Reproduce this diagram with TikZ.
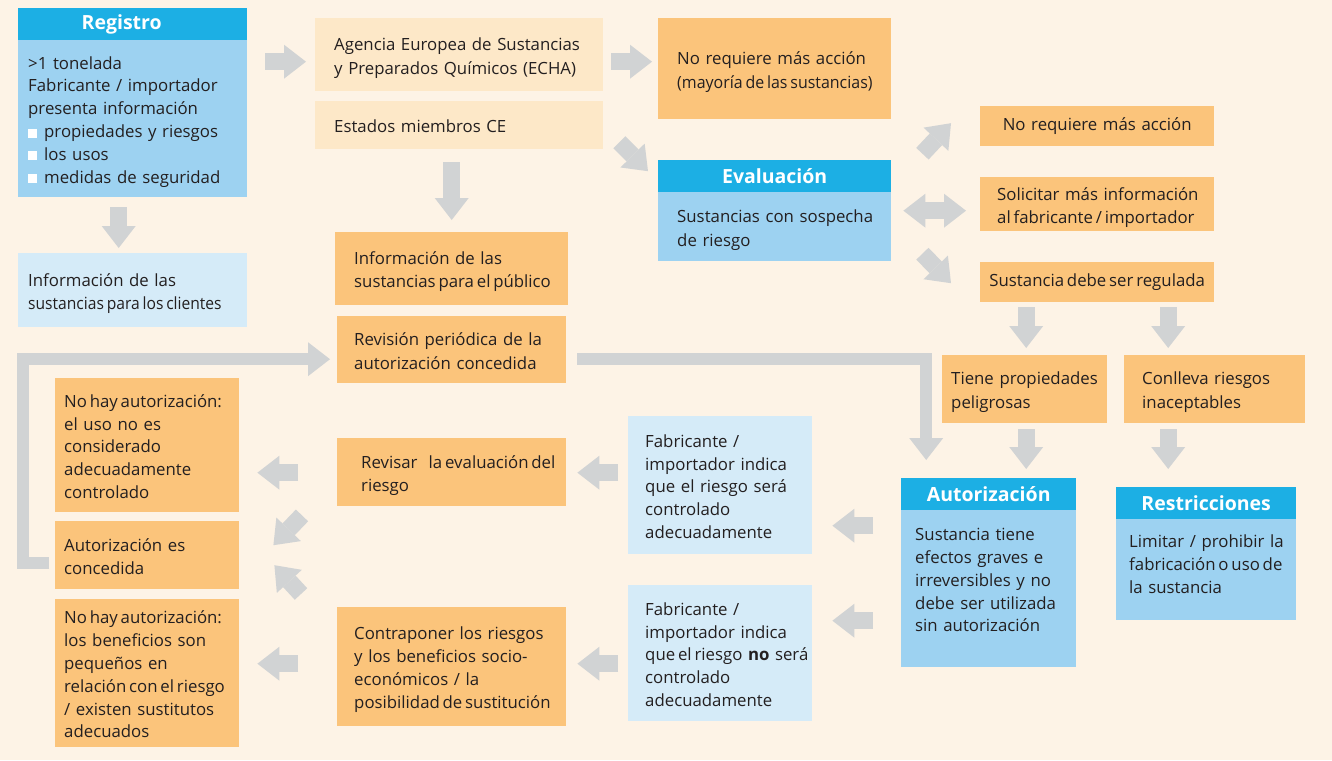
\documentclass[tikz,border=0pt]{standalone}
\usepackage{fontspec}
\setmainfont{Open Sans}
\usetikzlibrary{arrows.meta,calc}
\definecolor{bgc}{HTML}{FDF3E6}
\definecolor{orng}{HTML}{FBC47B}
\definecolor{lorng}{HTML}{FDE8C8}
\definecolor{hblue}{HTML}{1CAFE4}
\definecolor{bblue}{HTML}{9DD2F1}
\definecolor{pblue}{HTML}{D5EBF8}
\definecolor{agray}{HTML}{D1D3D4}
\definecolor{txt}{HTML}{231F20}
\newcommand\bul{\textcolor{white}{\rule{9pt}{9pt}}\hspace{7pt}}
\newcommand\mystrut{\vrule width 0pt height 19pt depth 3.8pt\relax}
\newcommand\tgt[1]{{\spaceskip=2.8pt\relax #1}}
\newcommand\tgs[2][0.95]{{\addfontfeature{FakeStretch=#1}\spaceskip=2.8pt\relax #2}}
\tikzset{
  base/.style={anchor=north west, inner ysep=0pt, text=txt,
    font=\fontsize{16.8}{22.8}\selectfont},
  bx/.style n args={3}{base, align=left, minimum width=#1pt, minimum height=#2pt,
    text width=#1pt, inner xsep=0pt,
    execute at begin node={\leftskip=#3pt\relax\mystrut},
    execute at end node={\mystrut}},
  cbx/.style 2 args={base, align=center, minimum width=#1pt, minimum height=#2pt,
    text width=#1pt, inner xsep=0pt},
  hdr/.style 2 args={anchor=north west, fill=hblue, text=white, inner sep=0pt,
    minimum width=#1pt, minimum height=#2pt, font=\bfseries\fontsize{19.5}{21}\selectfont},
  barr/.style={line width=17pt, color=agray, -{Triangle[width=34pt,length=22pt,line width=0pt]}},
  dbarr/.style={line width=17pt, color=agray, {Triangle[width=34pt,length=22pt,line width=0pt]}-{Triangle[width=34pt,length=22pt,line width=0pt]}},
  lbarr/.style={line width=12pt, color=agray, line join=miter, -{Triangle[width=34pt,length=22pt,line width=0pt]}},
}
\begin{document}
\begin{tikzpicture}[x=1pt,y=-1pt]
\useasboundingbox (0,0) rectangle (1332,760);
\fill[bgc] (0,0) rectangle (1332,760);

% Registro
\node[hdr={229}{32}] (regh) at (18,8) {Registro\hspace*{22pt}};
\node[bx={229}{157}{10}, fill=bblue] (regb) at (18,40) {>1 tonelada\\Fabricante / importador\\presenta información\\\bul propiedades y riesgos\\\bul los usos\\\bul medidas de seguridad};
\node[bx={229}{74}{10}, fill=pblue] (cli) at (18,253) {Información de las\\\tgs[0.93]{sustancias para los clientes}};

% ECHA
\node[bx={288}{73}{19}, fill=lorng] (echa) at (315,18) {Agencia Europea de Sustancias\\y Preparados Químicos (ECHA)};
\node[bx={288}{48}{19}, fill=lorng] (est) at (315,101) {Estados miembros CE};
\node[bx={233}{73}{19}, fill=orng] (pub) at (335,232) {Información de las\\\tgt{sustancias para el público}};
\node[bx={233}{101}{19}, fill=orng] (nra1) at (658,18) {No requiere más acción\\\tgs{(mayoría de las sustancias)}};

% Evaluacion
\node[hdr={233}{32}] (evh) at (658,160) {Evaluación};
\node[bx={233}{69}{19}, fill=bblue] (evb) at (658,192) {Sustancias con sospecha\\de riesgo};
\node[cbx={234}{40}, fill=orng] (nra2) at (980,106) {No requiere más acción};
\node[bx={234}{54}{17}, fill=orng] (sol) at (980,177) {Solicitar más información\\\tgt{al fabricante / importador}};
\node[cbx={234}{40}, fill=orng] (sreg) at (980,262) {\tgt{Sustancia debe ser regulada}};
\node[bx={165}{68}{9}, fill=orng] (tie) at (942,355) {Tiene propiedades\\peligrosas};
\node[bx={181}{68}{18}, fill=orng] (con) at (1124,355) {Conlleva riesgos\\inaceptables};

% Autorizacion / Restricciones
\node[hdr={175}{32}] (auth) at (901,478) {Autorización};
\node[bx={175}{157}{14}, fill=bblue] (autb) at (901,510) {Sustancia tiene\\efectos graves e\\irreversibles y no\\debe ser utilizada\\sin autorización\\[-2.8pt]\mbox{}};
\node[hdr={180}{32}] (resh) at (1116,487) {Restricciones};
\node[bx={180}{101}{13}, fill=bblue] (resb) at (1116,519) {Limitar / prohibir la\\\tgt{fabricación o uso de}\\la sustancia\\[-8.8pt]\mbox{}};

% middle column
\node[bx={229}{67}{17}, fill=orng] (rev) at (337,316) {Revisión periódica de la\\autorización concedida};
\node[bx={229}{68}{24}, fill=orng] (rsv) at (337,438) {Revisar\ \ \tgt{la evaluación del}\\riesgo};
\node[bx={229}{119}{17}, fill=orng] (cp) at (337,607) {Contraponer los riesgos\\y los beneficios socio-\\económicos / la\\\tgt{posibilidad de sustitución}};
\node[bx={184}{138}{17}, fill=pblue] (fab1) at (628,416) {Fabricante /\\importador indica\\que el riesgo será\\controlado\\adecuadamente};
\node[bx={184}{136}{17}, fill=pblue] (fab2) at (628,585) {Fabricante /\\importador indica\\\tgt{que el riesgo} \textbf{no} será\\controlado\\adecuadamente};

% left column
\node[bx={184}{134}{9}, fill=orng] (nh1) at (55,378) {\tgt{No hay autorización:}\\el uso no es\\considerado\\adecuadamente\\controlado};
\node[bx={184}{68}{9}, fill=orng] (conc) at (55,521) {Autorización es\\concedida};
\node[bx={184}{148}{9}, fill=orng] (nh2) at (55,599) {\tgt{No hay autorización:}\\los beneficios son\\pequeños en\\\tgt{relación con el riesgo}\\/ existen sustitutos\\adecuados};

% block arrows
\draw[barr] ($(regb.east)+(18,-57)$) -- ($(echa.west)+(-9,7)$);
\draw[barr] ($(echa.east)+(8,7)$) -- ($(nra1.west)+(-6,-7)$);
\draw[barr] ($(est.south)+(-7.5,13)$) -- ($(pub.north)+(0,-12)$);
\draw[barr] ($(regb.south)+(-14,10)$) -- ($(cli.north)+(-14,-5)$);
\draw[barr] ($(est.east)+(16,17)$) -- ($(evh.west)+(-10,-5)$);
\draw[barr] ($(evb.east)+(31,-73)$) -- ($(nra2.west)+(-29,-3)$);
\draw[dbarr] ($(evb.east)+(12,-16)$) -- ($(sol.west)+(-14,6.5)$);
\draw[barr] ($(evb.east)+(31,27)$) -- ($(sreg.west)+(-29,1)$);
\draw[barr] ($(sreg.south)+(-71,5)$) -- ($(tie.north)+(1.5,-7)$);
\draw[barr] ($(sreg.south)+(71,5)$) -- ($(con.north)+(-46.5,-7)$);
\draw[barr] ($(tie.south)+(1.5,6)$) -- ($(auth.north)+(37.5,-9)$);
\draw[barr] ($(con.south)+(-46.5,6)$) -- ($(resh.north)+(-38,-18)$);
\draw[barr] ($(autb.west)+(-28,-63)$) -- ($(fab1.east)+(20,40.5)$);
\draw[barr] ($(autb.west)+(-28,32)$) -- ($(fab2.east)+(20,-32.5)$);
\draw[barr] ($(fab1.west)+(-10,-12.5)$) -- ($(rsv.east)+(11,0.5)$);
\draw[barr] ($(fab2.west)+(-10,10.5)$) -- ($(cp.east)+(11,-3)$);
\draw[barr] ($(rsv.west)+(-39,0.5)$) -- ($(nh1.east)+(18,27.5)$);
\draw[barr] ($(cp.west)+(-39,-3)$) -- ($(nh2.east)+(18,-9.5)$);
\draw[barr] ($(rsv.south west)+(-35,9)$) -- ($(conc.east)+(34,-10)$);
\draw[barr] ($(cp.north west)+(-36,-13)$) -- ($(conc.east)+(35,10)$);

% L-shaped connectors
\draw[lbarr] ($(conc.west)+(-6,8)$) -- ++(-26,0) |- ($(rev.west)+(-7,9.5)$);
\draw[lbarr] ($(rev.east)+(11,9.5)$) -| ($(auth.north)+(-62.5,-18)$);
\end{tikzpicture}
\end{document}
